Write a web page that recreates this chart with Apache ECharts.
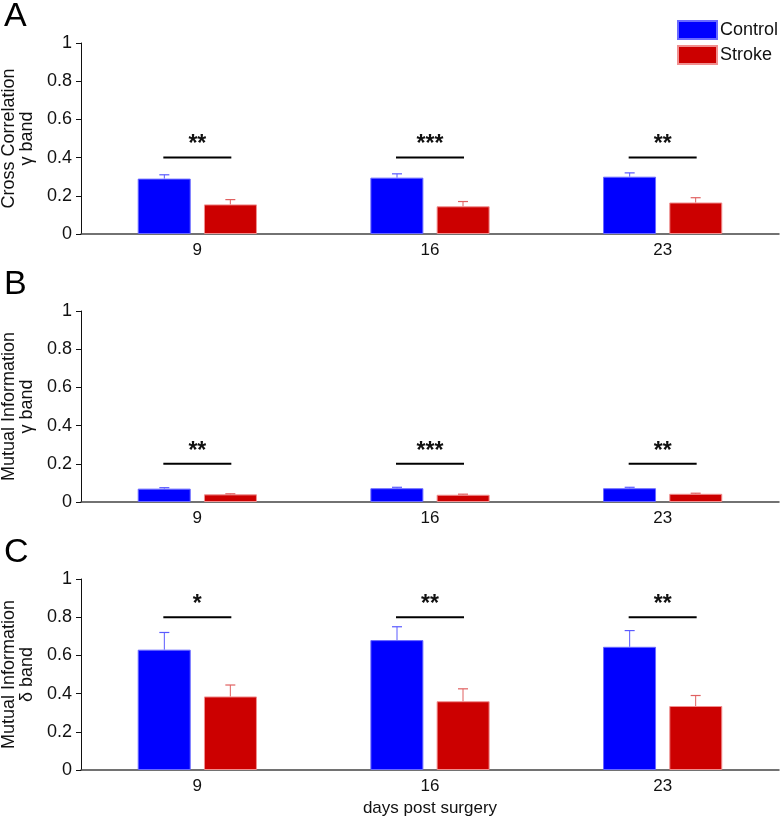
<!DOCTYPE html>
<html><head><meta charset="utf-8">
<script src="https://cdn.jsdelivr.net/npm/echarts@6/dist/echarts.min.js"></script>
<style>html,body{margin:0;padding:0;background:#fff}#c{width:780px;height:822px}</style>
</head><body><div id="c"></div>
<script>
const days = ['9', '16', '23'];
const yTicks = [0, 0.2, 0.4, 0.6, 0.8, 1];
// Panel A: Cross Correlation gamma band
const ccControl = [0.29, 0.295, 0.30];
const ccControlErr = [0.02, 0.02, 0.02];
const ccStroke = [0.155, 0.145, 0.165];
const ccStrokeErr = [0.025, 0.025, 0.025];
const ccSig = ['**', '***', '**'];
const ccSigLevel = 0.4;
// Panel B: Mutual Information gamma band
const migControl = [0.07, 0.072, 0.072];
const migControlErr = [0.005, 0.005, 0.005];
const migStroke = [0.04, 0.038, 0.043];
const migStrokeErr = [0.003, 0.003, 0.003];
const migSig = ['**', '***', '**'];
const migSigLevel = 0.2;
// Panel C: Mutual Information delta band
const midControl = [0.63, 0.68, 0.645];
const midControlErr = [0.09, 0.07, 0.085];
const midStroke = [0.385, 0.36, 0.335];
const midStrokeErr = [0.06, 0.065, 0.055];
const midSig = ['*', '**', '**'];
const midSigLevel = 0.8;

const panels = [
  {label: 'A', name: 'Cross Correlation\nγ band', c: ccControl, ce: ccControlErr, s: ccStroke, se: ccStrokeErr, sig: ccSig, lvl: ccSigLevel},
  {label: 'B', name: 'Mutual Information\nγ band', c: migControl, ce: migControlErr, s: migStroke, se: migStrokeErr, sig: migSig, lvl: migSigLevel},
  {label: 'C', name: 'Mutual Information\nδ band', c: midControl, ce: midControlErr, s: midStroke, se: midStrokeErr, sig: midSig, lvl: midSigLevel}
];

const FONT = 'Liberation Sans, Arial, sans-serif';
const BLUE = '#0000ff', RED = '#cc0000';
const BAR_OFF = 33;
const tops = [43, 311, 579];

const grids = [], xAxes = [], yAxes = [], series = [], graphics = [];
panels.forEach((p, i) => {
  grids.push({left: 81, right: 1, top: tops[i], height: 191, outerBoundsMode: 'none', containLabel: false});
  xAxes.push({
    type: 'category', gridIndex: i, data: days,
    axisLine: {lineStyle: {color: '#444', width: 1.5}},
    axisTick: {alignWithLabel: true, length: 6, lineStyle: {color: '#222'}},
    axisLabel: {fontFamily: FONT, fontSize: 17, color: '#111', margin: 8},
    name: i === 2 ? 'days post surgery' : '',
    nameLocation: 'middle', nameGap: 30,
    nameTextStyle: {fontFamily: FONT, fontSize: 17, color: '#111'}
  });
  yAxes.push({
    type: 'value', gridIndex: i, min: yTicks[0], max: yTicks[yTicks.length - 1], interval: 0.2,
    splitLine: {show: false},
    axisLine: {show: true, lineStyle: {color: '#111'}},
    axisTick: {show: true, length: 5, lineStyle: {color: '#111'}},
    axisLabel: {fontFamily: FONT, fontSize: 18, color: '#111', margin: 9},
    name: p.name, nameLocation: 'middle', nameGap: 39,
    nameTextStyle: {fontFamily: FONT, fontSize: 18, color: '#111', lineHeight: 18, align: 'center'}
  });
  series.push({
    type: 'bar', name: 'Control', xAxisIndex: i, yAxisIndex: i, data: p.c,
    barWidth: 53, barGap: '25%',
    itemStyle: {color: BLUE, borderColor: '#6a6aff', borderWidth: 1}
  });
  series.push({
    type: 'bar', name: 'Stroke', xAxisIndex: i, yAxisIndex: i, data: p.s,
    barWidth: 53, barGap: '25%',
    itemStyle: {color: RED, borderColor: '#f09090', borderWidth: 1}
  });
  const errData = [];
  p.c.forEach((v, k) => errData.push([k, v, p.ce[k], -1]));
  p.s.forEach((v, k) => errData.push([k, v, p.se[k], 1]));
  series.push({
    type: 'custom', xAxisIndex: i, yAxisIndex: i, data: errData, z: 5,
    encode: {x: 0, y: 1}, silent: true,
    renderItem: (params, api) => {
      const side = api.value(3);
      const b = api.coord([api.value(0), api.value(1)]);
      const t = api.coord([api.value(0), api.value(1) + api.value(2)]);
      const x = b[0] + side * BAR_OFF;
      const col = side < 0 ? '#5a5aff' : '#e06060';
      return {type: 'group', children: [
        {type: 'line', shape: {x1: x, y1: b[1], x2: x, y2: t[1]}, style: {stroke: col, lineWidth: 1}},
        {type: 'line', shape: {x1: x - 5, y1: t[1], x2: x + 5, y2: t[1]}, style: {stroke: col, lineWidth: 1.2}}
      ]};
    }
  });
  const sigData = p.sig.map((s, k) => [k, p.lvl]);
  const sigs = p.sig;
  series.push({
    type: 'custom', xAxisIndex: i, yAxisIndex: i, data: sigData, z: 5,
    encode: {x: 0, y: 1}, silent: true,
    renderItem: (params, api) => {
      const c = api.coord([api.value(0), api.value(1)]);
      return {type: 'group', children: [
        {type: 'line', shape: {x1: c[0] - BAR_OFF - 1, y1: c[1], x2: c[0] + BAR_OFF + 1, y2: c[1]}, style: {stroke: '#000', lineWidth: 2}},
        {type: 'text', x: c[0], y: c[1] - 1, style: {text: sigs[params.dataIndex], font: 'bold 23px ' + FONT, fill: '#111', align: 'center', verticalAlign: 'bottom'}}
      ]};
    }
  });
  graphics.push({type: 'text', left: 4, top: tops[i] - 43, style: {text: p.label, font: '34px ' + FONT, fill: '#000'}});
});

const chart = echarts.init(document.getElementById('c'));
chart.setOption({
  animation: false,
  backgroundColor: '#fff',
  legend: {
    data: ['Control', 'Stroke'], orient: 'vertical', left: 672, top: 15,
    itemWidth: 39, itemHeight: 18, itemGap: 5, icon: 'rect',
    textStyle: {fontFamily: FONT, fontSize: 18, color: '#111', padding: [0, 0, 0, -2]},
    selectedMode: false
  },
  grid: grids, xAxis: xAxes, yAxis: yAxes, series: series, graphic: graphics
});
</script></body></html>
